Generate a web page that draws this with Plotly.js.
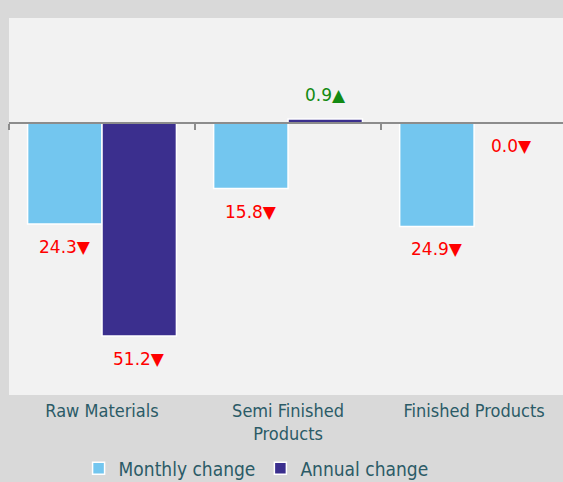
<!DOCTYPE html>
<html>
<head>
<meta charset="utf-8">
<script src="https://cdn.plot.ly/plotly-3.0.1.min.js"></script>
<style>
  html, body { margin: 0; padding: 0; overflow: hidden; background: #d9d9d9; }
  #chart { width: 563px; height: 482px; }
</style>
</head>
<body>
<div id="chart"></div>
<script>
const categories = ['Raw Materials', 'Semi Finished<br>Products', 'Finished Products'];
const monthlyChange = [-24.3, -15.8, -24.9];
const annualChange = [-51.2, 0.9, 0.0];
const seriesNames = ['Monthly change', 'Annual change'];

const yMin = -65.4, yMax = 25.2;
const labelColor = '#2b5b67';
const axisFont = "'DejaVu Sans Condensed', 'Noto Sans', sans-serif";

const traces = [
  {
    type: 'bar', name: seriesNames[0], x: categories, y: monthlyChange,
    marker: { color: '#73c6ef', line: { color: '#ffffff', width: 1.5 } },
    hoverinfo: 'skip'
  },
  {
    type: 'bar', name: seriesNames[1], x: categories, y: annualChange,
    marker: { color: '#3b2f8e', line: { color: '#ffffff', width: 1.5 } },
    hoverinfo: 'skip'
  },
  {
    type: 'scatter', mode: 'markers', x: categories, y: categories.map(() => 0),
    xaxis: 'x2', yaxis: 'y', marker: { opacity: 0 }, showlegend: false, hoverinfo: 'skip'
  }
];

function label(v) {
  return Math.abs(v).toFixed(1) + (v > 0 ? '▲' : '▼');
}
const annotations = [];
[monthlyChange, annualChange].forEach((series, s) => {
  series.forEach((v, i) => {
    annotations.push({
      x: categories[i], y: v, xref: 'x', yref: 'y',
      text: label(v), showarrow: false,
      xshift: s === 0 ? -37 : 37,
      yshift: v > 0 ? 24 : -23,
      font: { family: 'DejaVu Sans', size: 17, color: v > 0 ? '#138a13' : '#ff0000' }
    });
  });
});

const layout = {
  width: 563, height: 482,
  margin: { l: 9, r: 0, t: 18, b: 87, autoexpand: false },
  paper_bgcolor: '#d9d9d9',
  plot_bgcolor: '#f2f2f2',
  barmode: 'group',
  bargap: 0.2,
  bargroupgap: 0,
  showlegend: true,
  legend: {
    orientation: 'h', x: 0.446, xanchor: 'center', y: -0.195, yanchor: 'middle',
    font: { family: axisFont, size: 19, color: labelColor },
    itemwidth: 30, bgcolor: 'rgba(0,0,0,0)'
  },
  xaxis: {
    type: 'category', categoryorder: 'array', categoryarray: categories,
    range: [-0.5, 2.478], automargin: false,
    showline: false, ticks: '', showgrid: false, zeroline: false,
    ticklabelstandoff: 3,
    tickfont: { family: axisFont, size: 18, color: labelColor }
  },
  xaxis2: {
    type: 'category', categoryorder: 'array', categoryarray: categories,
    range: [-0.5, 2.478],
    overlaying: 'x', anchor: 'free', position: (0 - yMin) / (yMax - yMin),
    showline: true, linecolor: '#8c8c8c', linewidth: 2,
    ticks: 'outside', ticklen: 6, tickwidth: 2, tickcolor: '#8c8c8c',
    tickson: 'boundaries', showticklabels: false, showgrid: false, zeroline: false
  },
  yaxis: {
    range: [yMin, yMax], showticklabels: false, showgrid: false, automargin: false,
    zeroline: false, ticks: '', showline: false
  },
  annotations: annotations
};

Plotly.newPlot('chart', traces, layout, { displayModeBar: false, staticPlot: true });
</script>
</body>
</html>
